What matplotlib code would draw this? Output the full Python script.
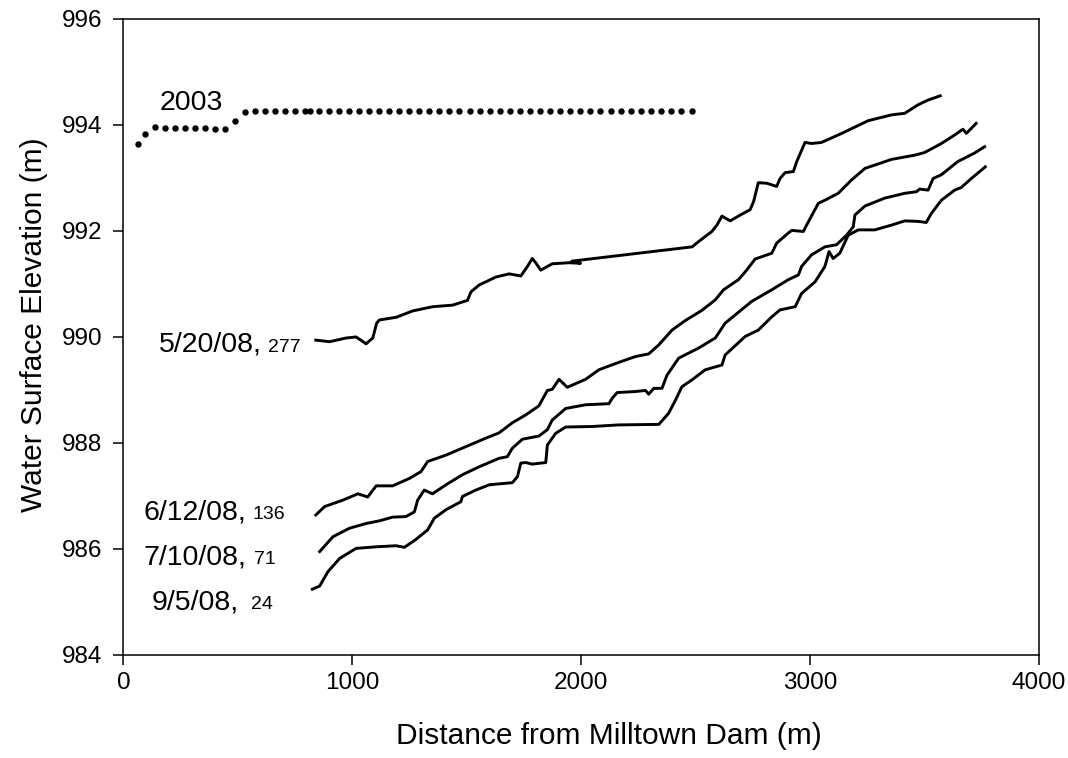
import numpy as np
import matplotlib
matplotlib.use('Agg')
import matplotlib.pyplot as plt

plt.rcParams['font.family'] = ['Liberation Sans', 'DejaVu Sans']

# 2003 survey (dots)
x2003 = [63, 95, 137, 182, 225, 270, 314, 357, 401, 445, 488, 531, 574, 618, 662, 706,
         751, 793, 814, 853, 897, 941, 985, 1029, 1073, 1117, 1161, 1205, 1249, 1293,
         1337, 1381, 1425, 1469, 1513, 1557, 1601, 1645, 1689, 1733, 1777, 1821, 1865,
         1909, 1953, 1997, 2041, 2085, 2129, 2173, 2217, 2261, 2305, 2349, 2393, 2437, 2485]
y2003 = [993.64, 993.83, 993.97, 993.95, 993.95, 993.95, 993.95, 993.95, 993.93, 993.93,
         994.07, 994.25, 994.26, 994.26, 994.26, 994.26, 994.27, 994.27, 994.27, 994.27,
         994.27, 994.27, 994.27, 994.27, 994.27, 994.27, 994.27, 994.27, 994.27, 994.27,
         994.27, 994.27, 994.27, 994.27, 994.27, 994.27, 994.27, 994.27, 994.27, 994.27,
         994.27, 994.27, 994.27, 994.27, 994.27, 994.27, 994.27, 994.27, 994.27, 994.27,
         994.27, 994.27, 994.27, 994.27, 994.27, 994.27, 994.27]

# 5/20/08, 277
x0520 = [841, 901, 974, 1017, 1061, 1090, 1107, 1119, 1192, 1264, 1351, 1439, 1504, 1519,
         1555, 1628, 1686, 1737, 1766, 1787, 1802, 1824, 1874, 1947, 1998, 1960,
         2486, 2514, 2572, 2594, 2616, 2652, 2696, 2739, 2754, 2775, 2812, 2855, 2870,
         2892, 2928, 2943, 2979, 3008, 3051, 3139, 3255, 3357, 3415, 3473, 3517, 3570]
y0520 = [989.94, 989.91, 989.98, 990.00, 989.87, 989.98, 990.26, 990.32, 990.37, 990.49,
         990.57, 990.60, 990.69, 990.85, 990.98, 991.13, 991.19, 991.15, 991.33, 991.48,
         991.40, 991.26, 991.38, 991.40, 991.39, 991.43,
         991.70, 991.80, 991.99, 992.11, 992.28, 992.19, 992.30, 992.40, 992.55, 992.91,
         992.90, 992.84, 992.99, 993.10, 993.12, 993.31, 993.67, 993.65, 993.67, 993.84,
         994.08, 994.19, 994.22, 994.38, 994.47, 994.55]

# 6/12/08, 136
x0612 = [841, 880, 959, 1025, 1068, 1105, 1177, 1250, 1301, 1330, 1410, 1497, 1584, 1642,
         1700, 1759, 1816, 1853, 1874, 1904, 1940, 2020, 2078, 2165, 2238, 2296, 2340,
         2398, 2456, 2528, 2587, 2623, 2688, 2724, 2761, 2834, 2855, 2906, 2921, 2972,
         2986, 3037, 3066, 3124, 3182, 3241, 3357, 3459, 3502, 3575, 3633, 3669, 3684, 3727]
y0612 = [986.64, 986.80, 986.92, 987.04, 986.98, 987.19, 987.19, 987.33, 987.46, 987.65,
         987.77, 987.93, 988.09, 988.19, 988.38, 988.53, 988.70, 988.99, 989.01, 989.20,
         989.05, 989.20, 989.38, 989.52, 989.63, 989.68, 989.85, 990.13, 990.31, 990.50,
         990.70, 990.89, 991.08, 991.26, 991.47, 991.58, 991.77, 991.96, 992.01, 991.99,
         992.11, 992.52, 992.58, 992.71, 992.96, 993.18, 993.35, 993.43, 993.48, 993.65,
         993.81, 993.92, 993.84, 994.03]

# 7/10/08, 71
x0710 = [858, 916, 988, 1061, 1119, 1177, 1235, 1272, 1286, 1315, 1351, 1410, 1482, 1555,
         1642, 1678, 1700, 1744, 1816, 1853, 1874, 1933, 2020, 2122, 2136, 2158, 2238,
         2282, 2296, 2318, 2354, 2376, 2427, 2514, 2587, 2630, 2746, 2834, 2906, 2950,
         2964, 3008, 3066, 3117, 3161, 3190, 3197, 3241, 3328, 3415, 3466, 3480, 3517,
         3539, 3575, 3647, 3720, 3764]
y0710 = [985.95, 986.23, 986.39, 986.48, 986.53, 986.60, 986.61, 986.70, 986.92, 987.11,
         987.04, 987.21, 987.40, 987.55, 987.71, 987.74, 987.90, 988.07, 988.13, 988.25,
         988.43, 988.65, 988.72, 988.74, 988.84, 988.95, 988.97, 988.99, 988.92, 989.03,
         989.03, 989.28, 989.60, 989.79, 989.98, 990.26, 990.67, 990.89, 991.08, 991.17,
         991.33, 991.55, 991.70, 991.74, 991.92, 992.08, 992.30, 992.47, 992.62, 992.71,
         992.74, 992.79, 992.77, 992.99, 993.06, 993.31, 993.47, 993.59]

# 9/5/08, 24
x0905 = [826, 858, 894, 945, 1017, 1105, 1192, 1228, 1279, 1330, 1359, 1410, 1475, 1482,
         1540, 1599, 1700, 1722, 1737, 1759, 1787, 1846, 1853, 1889, 1933, 2049, 2165,
         2340, 2383, 2412, 2441, 2485, 2543, 2616, 2630, 2718, 2775, 2834, 2870, 2936,
         2964, 3023, 3066, 3084, 3102, 3131, 3168, 3212, 3284, 3357, 3415, 3473, 3509,
         3531, 3575, 3633, 3662, 3706, 3767]
y0905 = [985.24, 985.30, 985.57, 985.82, 986.01, 986.04, 986.06, 986.03, 986.18, 986.36,
         986.58, 986.74, 986.89, 986.99, 987.11, 987.21, 987.25, 987.36, 987.62, 987.63,
         987.60, 987.63, 987.96, 988.18, 988.30, 988.31, 988.34, 988.35, 988.56, 988.80,
         989.06, 989.19, 989.38, 989.47, 989.66, 990.01, 990.13, 990.38, 990.51, 990.57,
         990.82, 991.04, 991.33, 991.61, 991.48, 991.58, 991.92, 992.02, 992.02, 992.11,
         992.19, 992.18, 992.16, 992.33, 992.58, 992.77, 992.82, 992.99, 993.21]

fig = plt.figure(figsize=(10.68, 7.58), dpi=100)
ax = fig.add_axes([0.1155, 0.136, 0.857, 0.839])

ax.plot(x2003, y2003, linestyle='none', marker='o', markersize=3.6, color='black')
for xs, ys in [(x0520, y0520), (x0612, y0612), (x0710, y0710), (x0905, y0905)]:
    ax.plot(xs, ys, color='black', linewidth=2.1, solid_joinstyle='round')

# labels: date in large text, number in small text
big = 20.5
small = 14
ax.text(298, 994.28, '2003', fontsize=big, ha='center', va='baseline')
labels = [('5/20/08,', '277', 605, 631, 989.72),
          ('6/12/08,', '136', 539, 565, 986.56),
          ('7/10/08,', '71', 539, 570, 985.71),
          ('9/5/08,', '24', 504, 557, 984.86)]
for date, num, xr, xl, yb in labels:
    ax.text(xr, yb, date, fontsize=big, ha='right', va='baseline')
    ax.text(xl, yb, num, fontsize=small, ha='left', va='baseline')

ax.set_xlim(0, 4000)
ax.set_ylim(984, 996)
ax.set_xticks([0, 1000, 2000, 3000, 4000])
ax.set_yticks([984, 986, 988, 990, 992, 994, 996])
ax.tick_params(direction='out', length=7, width=1.1, labelsize=17.5)
ax.tick_params(axis='y', pad=8)
ax.tick_params(axis='x', pad=5)
for s in ax.spines.values():
    s.set_linewidth(1.1)

ax.set_xlabel('Distance from Milltown Dam (m)', fontsize=21.5)
ax.set_ylabel('Water Surface Elevation (m)', fontsize=21.5)
ax.xaxis.set_label_coords(0.53, -0.105)
ax.yaxis.set_label_coords(-0.082, 0.52)

fig.savefig('out.png', dpi=100)
